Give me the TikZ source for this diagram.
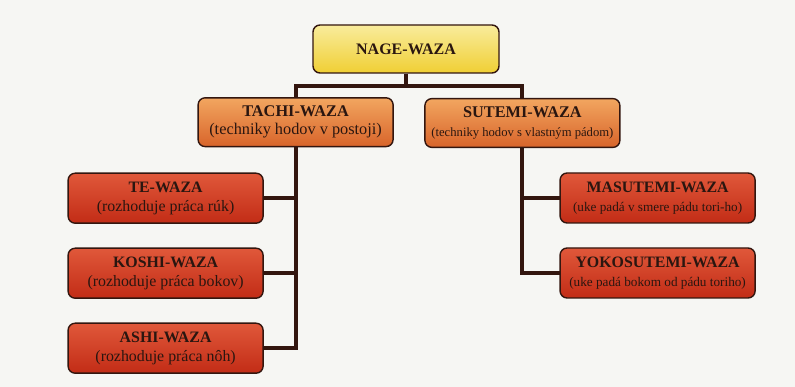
\documentclass[tikz,border=0pt]{standalone}
\usepackage{fontspec}
\setmainfont{Liberation Serif}
\usetikzlibrary{calc,backgrounds}

\definecolor{paper}{HTML}{F6F6F3}
\definecolor{linebrown}{HTML}{33160F}
\definecolor{textdark}{HTML}{2A1610}
\definecolor{yellowtop}{HTML}{F9EC9C}
\definecolor{yellowbot}{HTML}{F0CF34}
\definecolor{orangetop}{HTML}{F2A660}
\definecolor{orangebot}{HTML}{D8642A}
\definecolor{redtop}{HTML}{E0583A}
\definecolor{redbot}{HTML}{C22C16}

\begin{document}
\begin{tikzpicture}[node distance = 1.875cm, thick,
  box/.style = {rectangle, rounded corners=5pt, draw=linebrown, line width=1pt,
                align=center, text=textdark, inner sep=1pt},
  nagebox/.style = {box, top color=yellowtop, bottom color=yellowbot,
                    minimum width=4.65cm, minimum height=1.2cm,
                    font=\fontsize{11.4}{14}\selectfont\bfseries},
  midbox/.style = {box, top color=orangetop, bottom color=orangebot,
                   minimum width=4.875cm, minimum height=1.22cm,
                   font=\fontsize{11.6}{13}\selectfont},
  lowbox/.style = {box, top color=redtop, bottom color=redbot,
                   minimum width=4.875cm, minimum height=1.25cm,
                   font=\fontsize{11.3}{13.8}\selectfont},
  link/.style = {draw=linebrown, line width=2.8pt}]

  \begin{pgfonlayer}{background}
    \fill[paper] (0,0) rectangle (19.875,-9.675);
  \end{pgfonlayer}
  \useasboundingbox (0,0) rectangle (19.875,-9.675);

  \node[nagebox] at (10.15,-1.225) (nage) {NAGE-WAZA};

  \node[midbox, below of = nage, xshift = -2.76cm, node distance = 1.83cm] (tachi)
  {{\bfseries TACHI-WAZA}\\(techniky hodov v postoji)};
  \node[midbox, below of = nage, xshift = 2.91cm, node distance = 1.85cm] (sutemi)
  {{\bfseries SUTEMI-WAZA}\\{\fontsize{9}{10}\selectfont (techniky hodov s vlastným pádom)}};

  \node[lowbox, below of = tachi, xshift = -3.25cm, node distance = 1.9cm] (te)
  {{\bfseries TE-WAZA}\\(rozhoduje práca rúk)};
  \node[lowbox, below of = te] (koshi)
  {{\bfseries KOSHI-WAZA}\\(rozhoduje práca bokov)};
  \node[lowbox, below of = koshi] (ashi)
  {{\bfseries ASHI-WAZA}\\(rozhoduje práca nôh)};

  \node[lowbox, below of = sutemi, xshift = 3.38cm, node distance = 1.875cm] (masu)
  {{\bfseries MASUTEMI-WAZA}\\{\fontsize{9.4}{10.5}\selectfont (uke padá v smere pádu tori-ho)}};
  \node[lowbox, below of = masu] (yoko)
  {{\bfseries YOKOSUTEMI-WAZA}\\{\fontsize{9.4}{10.5}\selectfont (uke padá bokom od pádu toriho)}};

  \begin{pgfonlayer}{background}
    \draw[link] (nage.south) -- ++(0,-0.3) -| (tachi.north);
    \draw[link] (nage.south) -- ++(0,-0.3) -| (sutemi.north);

    \draw[link] (tachi.south) |- (te.east);
    \draw[link] (tachi.south) |- (koshi.east);
    \draw[link] (tachi.south) |- (ashi.east);

    \draw[link] (sutemi.south) |- (masu.east);
    \draw[link] (sutemi.south) |- (yoko.east);
  \end{pgfonlayer}

\end{tikzpicture}
\end{document}
